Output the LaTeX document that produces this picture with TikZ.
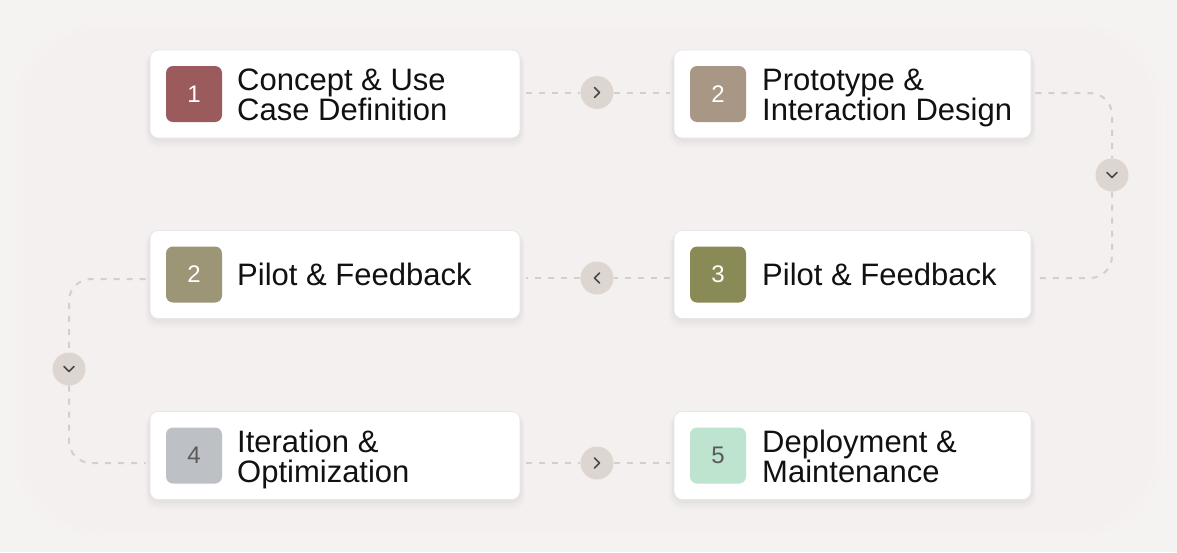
\documentclass[tikz,border=0pt]{standalone}
\usepackage{fontspec}
\setmainfont{Liberation Sans}
\usetikzlibrary{calc}
\definecolor{bgc}{HTML}{F4F3F1}
\definecolor{glow}{HTML}{FDF0F0}
\definecolor{cardborder}{HTML}{E6E6EB}
\definecolor{connc}{HTML}{D4CFCC}
\definecolor{dotc}{HTML}{DDD5D0}
\definecolor{chevc}{HTML}{4A4644}
\definecolor{txtc}{HTML}{111111}
\definecolor{bA}{HTML}{9B5A5B}
\definecolor{bB}{HTML}{A89785}
\definecolor{bC}{HTML}{9C9576}
\definecolor{bD}{HTML}{8A8A56}
\definecolor{bE}{HTML}{BDC1C6}
\definecolor{bF}{HTML}{BEE3CF}
\definecolor{numdark}{HTML}{5A5A5A}
\tikzset{
  cardbox/.style={draw=cardborder, line width=0.8pt, fill=white, rounded corners=8pt, inner sep=0pt, minimum height=88pt},
  badgebox/.style={rounded corners=7pt, minimum width=56pt, minimum height=56pt, inner sep=0pt, font=\fontsize{24}{24}\selectfont},
  titletext/.style={anchor=west, inner sep=0pt, align=left, text=txtc, font=\fontsize{31}{30}\selectfont},
  dotnode/.style={circle, fill=dotc, minimum size=33pt, inner sep=0pt},
  conn/.style={draw=connc, line width=2pt, dash pattern=on 6pt off 7pt},
  chev/.style={draw=chevc, line width=1.7pt, line cap=round, line join=round},
}
\newcommand{\topstrut}{\rule{0pt}{23pt}}
\newcommand{\botstrut}{\rule[-7pt]{0pt}{7pt}}
\newcommand{\cardshadow}[3]{% cx, cy, width
  \foreach \k/\o in {10/0.012, 7/0.018, 4/0.025}{
    \fill[black, opacity=\o, rounded corners=12pt] (#1-#3/2-\k/2, #2-44+2) rectangle (#1+#3/2+\k/2, #2+44+\k);
  }
}
\begin{document}
\begin{tikzpicture}[x=1pt,y=-1pt]
\useasboundingbox (0,0) rectangle (1177,552);
\fill[bgc] (0,0) rectangle (1177,552);
\foreach \i in {0,...,9}{
  \fill[glow, opacity=0.12, rounded corners=80pt] (10+6*\i,20+5*\i) rectangle (1167-6*\i,540-5*\i);
}

% shadows
\cardshadow{335}{94}{370}
\cardshadow{852.5}{94}{357}
\cardshadow{335}{274.5}{370}
\cardshadow{852.5}{274.5}{357}
\cardshadow{335}{455.5}{370}
\cardshadow{852.5}{455.5}{357}

% cards
\node[cardbox, minimum width=370pt] (c1) at (335,94) {};
\node[cardbox, minimum width=357pt] (c2) at (852.5,94) {};
\node[cardbox, minimum width=357pt] (c3) at (852.5,274.5) {};
\node[cardbox, minimum width=370pt] (c4) at (335,274.5) {};
\node[cardbox, minimum width=370pt] (c5) at (335,455.5) {};
\node[cardbox, minimum width=357pt] (c6) at (852.5,455.5) {};

% badges
\node[badgebox, fill=bA, text=white] (b1) at (194,94) {1};
\node[badgebox, fill=bB, text=white] (b2) at (718,94) {2};
\node[badgebox, fill=bD, text=white] (b3) at (718,274.5) {3};
\node[badgebox, fill=bC, text=white] (b4) at (194,274.5) {2};
\node[badgebox, fill=bE, text=numdark] (b5) at (194,455.5) {4};
\node[badgebox, fill=bF, text=numdark] (b6) at (718,455.5) {5};

% titles
\node[titletext] (t1) at (237,97.5) {\topstrut Concept \& Use\\Case Definition\botstrut};
\node[titletext] (t2) at (762,97.5) {\topstrut Prototype \&\\Interaction Design\botstrut};
\node[titletext] (t3) at (762,277.5) {\topstrut Pilot \& Feedback\botstrut};
\node[titletext] (t4) at (237,277.5) {\topstrut Pilot \& Feedback\botstrut};
\node[titletext] (t5) at (237,459) {\topstrut Iteration \&\\Optimization\botstrut};
\node[titletext] (t6) at (762,459) {\topstrut Deployment \&\\Maintenance\botstrut};

% connector dots
\node[dotnode] (a1) at (597,92.5) {};
\node[dotnode] (a2) at (1112,175) {};
\node[dotnode] (a3) at (597,278) {};
\node[dotnode] (a4) at (69,369) {};
\node[dotnode] (a5) at (597,463) {};
\coordinate (r1) at (1112,93);
\coordinate (l1) at (69,279);

% connectors
\draw[conn, shorten <=6pt] (c1.east |- a1) -- (a1.west);
\draw[conn, shorten >=4pt] (a1.east) -- (c2.west |- a1);
\draw[conn, rounded corners=22pt, shorten <=4pt] (c2.east |- r1) -- (r1) -- (a2.north);
\draw[conn, rounded corners=22pt, shorten >=4pt] (a2.south) -- (a2.south |- a3) -- (c3.east |- a3);
\draw[conn, shorten <=4pt] (c3.west |- a3) -- (a3.east);
\draw[conn, shorten >=6pt] (a3.west) -- (c4.east |- a3);
\draw[conn, rounded corners=22pt, shorten <=4pt] (c4.west |- l1) -- (l1) -- (a4.north);
\draw[conn, rounded corners=22pt, shorten >=4pt] (a4.south) -- (a4.south |- a5) -- (c5.west |- a5);
\draw[conn, shorten <=6pt] (c5.east |- a5) -- (a5.west);
\draw[conn, shorten >=4pt] (a5.east) -- (c6.west |- a5);

% chevrons
\draw[chev] ($(a1)+(-2.5,-5)$) -- ++(5,5) -- ++(-5,5);
\draw[chev] ($(a2)+(-5,-2.5)$) -- ++(5,5) -- ++(5,-5);
\draw[chev] ($(a3)+(2.5,-5)$) -- ++(-5,5) -- ++(5,5);
\draw[chev] ($(a4)+(-5,-2.5)$) -- ++(5,5) -- ++(5,-5);
\draw[chev] ($(a5)+(-2.5,-5)$) -- ++(5,5) -- ++(-5,5);
\end{tikzpicture}
\end{document}
